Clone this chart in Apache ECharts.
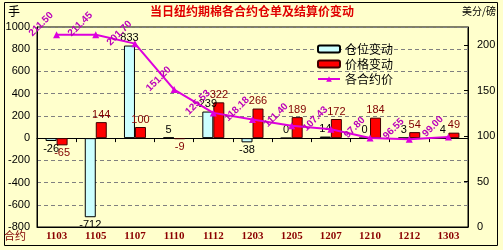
<!DOCTYPE html>
<html>
<head>
<meta charset="utf-8">
<script src="https://cdn.jsdelivr.net/npm/echarts@6/dist/echarts.min.js"></script>
<style>
html,body{margin:0;padding:0;background:#FFFFCC;}
#wrap{position:relative;width:503px;height:250px;}
#c{width:503px;height:250px;}
#unitL{position:absolute;left:8px;top:4px;font:12px "Noto Sans CJK SC";color:#000;line-height:14px;}
</style>
</head>
<body>
<div id="wrap"><div id="c"></div><div id="unitL">手</div></div>
<script>
var categories = ['1103','1105','1107','1110','1112','1203','1205','1207','1210','1212','1303'];
var positionChange = [-26, -712, 833, 5, 239, -38, 0, 14, 0, 3, 4];
var priceChange = [-65, 144, 100, -9, 322, 266, 189, 172, 184, 54, 49];
var contractPrice = [211.50, 211.45, 201.70, 151.20, 125.53, 118.18, 111.40, 107.43, 97.80, 96.55, 99.00];
var leftTicks = {min: -800, max: 1000, interval: 200};
var rightTicks = {min: 0, max: 220, interval: 50};

var chart = echarts.init(document.getElementById('c'), null, {renderer: 'canvas'});
var font = 'Liberation Sans';
var cjk = 'Noto Sans CJK SC';
function barData(arr, color) {
  return arr.map(function (v) {
    return {value: v, label: {position: v < 0 ? 'bottom' : 'top', color: color}};
  });
}
chart.setOption({
  backgroundColor: '#FFFFCC',
  animation: false,
  textStyle: {fontFamily: font},
  title: [
    {
      text: '当日纽约期棉各合约仓单及结算价变动',
      left: 252, top: 5, textAlign: 'center', padding: 0,
      textStyle: {color: '#E00000', fontSize: 12, fontWeight: 'bold', fontFamily: cjk}
    },
    {text: '美分/磅', left: 462, top: 6, padding: 0, textStyle: {color: '#000', fontSize: 10, fontWeight: 'normal', fontFamily: cjk}}
  ],
  graphic: [
    {type: 'rect', shape: {x: 4.5, y: 2.5, width: 493, height: 243}, style: {fill: 'none', stroke: '#000', lineWidth: 1}, silent: true, z: -1}
  ],
  legend: {
    orient: 'vertical', left: 312, top: 38, itemGap: 3, itemWidth: 22, itemHeight: 7,
    textStyle: {color: '#000', fontSize: 12, fontFamily: cjk},
    data: ['仓位变动', '价格变动', '各合约价']
  },
  grid: {left: 37, right: 35, top: 27, bottom: 23, outerBoundsMode: 'none', containLabel: false, show: true, borderColor: '#000', borderWidth: 1, backgroundColor: '#FFFFCC'},
  xAxis: [
    {
      type: 'category', data: categories, position: 'bottom',
      name: '合约', nameLocation: 'start', nameGap: 11, nameMoveOverlap: false,
      nameTextStyle: {color: '#800000', fontSize: 11, fontFamily: cjk, align: 'right', verticalAlign: 'top', padding: [3, 0, 0, 0]},
      axisLine: {onZero: false, lineStyle: {color: '#000'}},
      axisTick: {show: false},
      axisLabel: {color: '#8B0000', fontWeight: 'bold', fontSize: 11, fontFamily: 'Liberation Serif', margin: 4, interval: 0}
    },
    {
      type: 'category', data: categories, position: 'bottom',
      axisLine: {onZero: true, onZeroAxisIndex: 0, lineStyle: {color: '#000'}},
      axisTick: {show: true, length: 4, lineStyle: {color: '#000'}},
      axisLabel: {show: false}
    }
  ],
  yAxis: [
    {
      type: 'value', min: leftTicks.min, max: leftTicks.max, interval: leftTicks.interval,
      axisLine: {show: true, lineStyle: {color: '#000'}},
      axisTick: {show: false},
      axisLabel: {color: '#000', fontSize: 11, margin: 7, formatter: function (v) { return String(v); }},
      splitLine: {show: true, lineStyle: {color: '#808080', type: [4, 3]}}
    },
    {
      type: 'value', min: rightTicks.min, max: rightTicks.max, interval: rightTicks.interval,
      position: 'right',
      axisLine: {show: true, lineStyle: {color: '#000'}},
      axisTick: {show: true, inside: true, length: 4, lineStyle: {color: '#000'}},
      axisLabel: {color: '#000', fontSize: 11, margin: 9, showMaxLabel: false},
      splitLine: {show: false}
    }
  ],
  series: [
    {
      name: '仓位变动', type: 'bar', xAxisIndex: 0, yAxisIndex: 0,
      data: barData(positionChange, '#000'), barWidth: 11, barGap: '0%',
      itemStyle: {color: '#CCFFFF', borderColor: '#000', borderWidth: 1},
      label: {show: true, fontSize: 11, distance: 2, fontFamily: font}
    },
    {
      name: '价格变动', type: 'bar', xAxisIndex: 0, yAxisIndex: 0,
      data: barData(priceChange, '#800000'), barWidth: 11, barGap: '0%',
      itemStyle: {color: '#FF0000', borderColor: '#400000', borderWidth: 1},
      label: {show: true, fontSize: 11, distance: 2, fontFamily: font}
    },
    {
      name: '各合约价', type: 'line', xAxisIndex: 0, yAxisIndex: 1,
      data: contractPrice, symbol: 'triangle', symbolSize: 7,
      lineStyle: {color: '#DD00DD', width: 2},
      itemStyle: {color: '#DD00DD'},
      z: 5,
      label: {
        show: true, rotate: 45, position: [-12, -7], align: 'center', verticalAlign: 'middle',
        color: '#BB00BB', fontSize: 10, fontWeight: 'bold',
        formatter: function (p) { return p.value.toFixed(2); }
      }
    }
  ]
});
</script>
</body>
</html>
